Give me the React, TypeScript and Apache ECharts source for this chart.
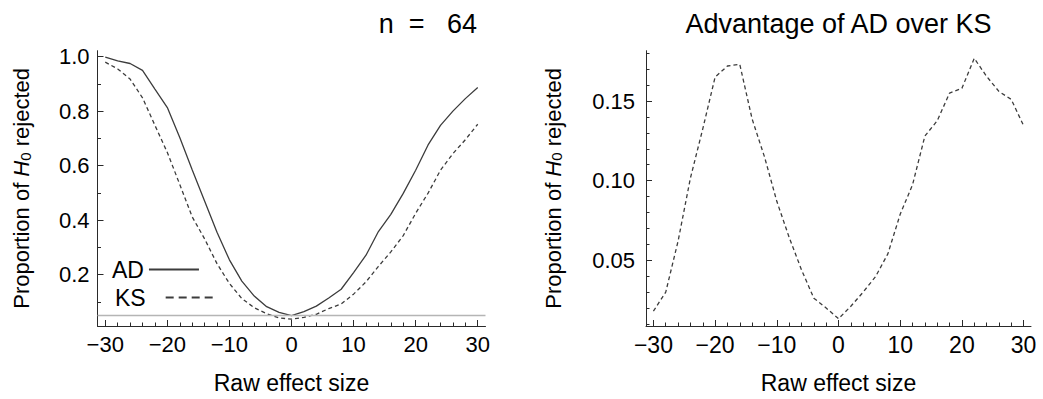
import React, { useEffect, useRef } from "react";
import * as echarts from "echarts";

// ---- data ----
const effectSize = [-30, -28, -26, -24, -22, -20, -18, -16, -14, -12, -10, -8, -6, -4, -2, 0, 2, 4, 6, 8, 10, 12, 14, 16, 18, 20, 22, 24, 26, 28, 30];
const adPower = [0.998, 0.985, 0.975, 0.95, 0.881, 0.813, 0.703, 0.585, 0.47, 0.355, 0.254, 0.176, 0.121, 0.082, 0.061, 0.049, 0.064, 0.084, 0.114, 0.146, 0.207, 0.271, 0.358, 0.421, 0.498, 0.583, 0.676, 0.748, 0.8, 0.846, 0.887];
const ksPower = [0.98, 0.955, 0.918, 0.849, 0.748, 0.648, 0.531, 0.412, 0.331, 0.24, 0.167, 0.112, 0.078, 0.056, 0.041, 0.036, 0.043, 0.054, 0.075, 0.092, 0.128, 0.173, 0.23, 0.283, 0.343, 0.425, 0.499, 0.583, 0.644, 0.695, 0.752];
const advantage = [0.018, 0.03, 0.062, 0.1016, 0.1325, 0.165, 0.172, 0.173, 0.1387, 0.115, 0.087, 0.0644, 0.044, 0.0262, 0.02, 0.0133, 0.0211, 0.03, 0.0397, 0.054, 0.0789, 0.0974, 0.128, 0.1376, 0.155, 0.158, 0.1768, 0.1655, 0.156, 0.151, 0.1345];
const alphaLevel = 0.05;

const xMajorTicks = [-30, -20, -10, 0, 10, 20, 30];
const xMinorTicks = [-28, -26, -24, -22, -18, -16, -14, -12, -8, -6, -4, -2, 2, 4, 6, 8, 12, 14, 16, 18, 22, 24, 26, 28];
const leftYMajorTicks = [0.2, 0.4, 0.6, 0.8, 1.0];
const leftYMinorTicks = [0.1, 0.3, 0.5, 0.7, 0.9];
const rightYMajorTicks = [0.05, 0.1, 0.15];
const rightYMinorTicks = [0.01, 0.02, 0.03, 0.04, 0.06, 0.07, 0.08, 0.09, 0.11, 0.12, 0.13, 0.14, 0.16, 0.17, 0.18];

const FONT = "'Liberation Sans', Arial, Helvetica, sans-serif";
const AXIS = "#2a2a2a";
const CURVE = "#3c3c3c";

const fmtX = (v: number) => (v < 0 ? "\u2212" + Math.abs(v) : String(v));

const yName = "{a|Proportion of }{h|H}{s|0}{a| rejected}";
const yNameStyle = {
  fontFamily: FONT,
  fontSize: 22,
  color: "#000",
  rich: {
    a: { fontFamily: FONT, fontSize: 22, color: "#000" },
    h: { fontFamily: FONT, fontSize: 22, color: "#000", fontStyle: "italic" },
    s: { fontFamily: FONT, fontSize: 15, color: "#000", verticalAlign: "bottom", lineHeight: 12 },
  },
};

function mainX(grid: number, min: number, max: number, labelSize: number) {
  return {
    gridIndex: grid,
    type: "value",
    min,
    max,
    position: "bottom",
    axisLine: { show: true, onZero: false, lineStyle: { color: AXIS, width: 1 } },
    axisTick: { show: true, inside: true, length: 6, customValues: xMajorTicks, lineStyle: { color: AXIS, width: 1 } },
    axisLabel: { customValues: xMajorTicks, formatter: fmtX, fontFamily: FONT, fontSize: labelSize, color: "#000", margin: 7 },
    splitLine: { show: false },
    name: "Raw effect size",
    nameLocation: "middle",
    nameGap: 45,
    nameTextStyle: { fontFamily: FONT, fontSize: 23, color: "#000" },
  };
}
function minorX(grid: number, min: number, max: number) {
  return {
    gridIndex: grid,
    type: "value",
    min,
    max,
    position: "bottom",
    axisLine: { show: false, onZero: false },
    axisTick: { show: true, inside: true, length: 3.5, customValues: xMinorTicks, lineStyle: { color: AXIS, width: 1 } },
    axisLabel: { show: false },
    splitLine: { show: false },
  };
}
function mainY(grid: number, min: number, max: number, major: number[], digits: number, labelSize: number, margin: number, nameGap: number) {
  return {
    gridIndex: grid,
    type: "value",
    min,
    max,
    position: "left",
    axisLine: { show: true, onZero: false, lineStyle: { color: AXIS, width: 1 } },
    axisTick: { show: true, inside: true, length: 6, customValues: major, lineStyle: { color: AXIS, width: 1 } },
    axisLabel: { customValues: major, formatter: (v: number) => v.toFixed(digits), fontFamily: FONT, fontSize: labelSize, color: "#000", margin },
    splitLine: { show: false },
    name: yName,
    nameLocation: "middle",
    nameGap,
    nameTextStyle: yNameStyle,
  };
}
function minorY(grid: number, min: number, max: number, minor: number[]) {
  return {
    gridIndex: grid,
    type: "value",
    min,
    max,
    position: "left",
    axisLine: { show: false, onZero: false },
    axisTick: { show: true, inside: true, length: 3.5, customValues: minor, lineStyle: { color: AXIS, width: 1 } },
    axisLabel: { show: false },
    splitLine: { show: false },
  };
}

export default function App() {
  const ref = useRef<HTMLDivElement>(null);
  useEffect(() => {
    if (!ref.current) return;
    const chart = echarts.init(ref.current, undefined, { renderer: "svg" });
    const pairs = (ys: number[]) => effectSize.map((x, i) => [x, ys[i]]);
    const titleStyle = { fontFamily: FONT, fontSize: 27, fontWeight: "normal", color: "#000" };
    chart.setOption({
      animation: false,
      backgroundColor: "#fff",
      title: [
        { text: "n  =   64", right: 566, top: 10, padding: 0, textStyle: titleStyle },
        { text: "Advantage of AD over KS", left: 838.5, top: 10, textAlign: "center", padding: 0, textStyle: titleStyle },
      ],
      legend: [
        {
          data: ["AD"],
          left: 112,
          top: 258,
          align: "right",
          itemWidth: 50,
          itemHeight: 14,
          padding: 0,
          selectedMode: false,
          itemStyle: { opacity: 0, borderWidth: 0 },
          textStyle: { fontFamily: FONT, fontSize: 23, color: "#000" },
        },
        {
          data: ["KS"],
          left: 115,
          top: 286,
          align: "right",
          itemWidth: 47,
          itemHeight: 14,
          padding: 0,
          selectedMode: false,
          itemStyle: { opacity: 0, borderWidth: 0 },
          lineStyle: { type: [8, 5] },
          textStyle: { fontFamily: FONT, fontSize: 23, color: "#000", padding: [0, 15, 0, 0] },
        },
      ],
      grid: [
        { left: 97.5, top: 50.7, width: 388, height: 279.3 },
        { left: 646, top: 50.7, width: 385, height: 279.3 },
      ],
      xAxis: [
        mainX(0, -31.25, 31.25, 22),
        minorX(0, -31.25, 31.25),
        mainX(1, -31.2, 31.2, 23),
        minorX(1, -31.2, 31.2),
      ],
      yAxis: [
        mainY(0, 0.011, 1.022, leftYMajorTicks, 1, 22, 8, 65),
        minorY(0, 0.011, 1.022, leftYMinorTicks),
        mainY(1, 0.0087, 0.1816, rightYMajorTicks, 2, 22, 11, 82),
        minorY(1, 0.0087, 0.1816, rightYMinorTicks),
      ],
      series: [
        {
          name: "AD",
          type: "line",
          xAxisIndex: 0,
          yAxisIndex: 0,
          data: pairs(adPower),
          symbol: "none",
          showSymbol: false,
          lineStyle: { color: CURVE, width: 1.3, type: "solid" },
          itemStyle: { color: CURVE },
          markLine: {
            silent: true,
            symbol: ["none", "none"],
            label: { show: false },
            lineStyle: { color: "#b5b5b5", width: 1.3, type: "solid" },
            data: [{ yAxis: alphaLevel }],
          },
          z: 3,
        },
        {
          name: "KS",
          type: "line",
          xAxisIndex: 0,
          yAxisIndex: 0,
          data: pairs(ksPower),
          symbol: "none",
          showSymbol: false,
          lineStyle: { color: CURVE, width: 1.3, type: [4, 3] },
          itemStyle: { color: CURVE },
          z: 3,
        },
        {
          name: "AD − KS",
          type: "line",
          xAxisIndex: 2,
          yAxisIndex: 2,
          data: pairs(advantage),
          symbol: "none",
          showSymbol: false,
          lineStyle: { color: CURVE, width: 1.3, type: [4, 3] },
          itemStyle: { color: CURVE },
          z: 3,
        },
      ],
    });
    return () => chart.dispose();
  }, []);
  return <div ref={ref} style={{ position: "absolute", left: 0, top: 0, width: 1043, height: 399 }} />;
}
